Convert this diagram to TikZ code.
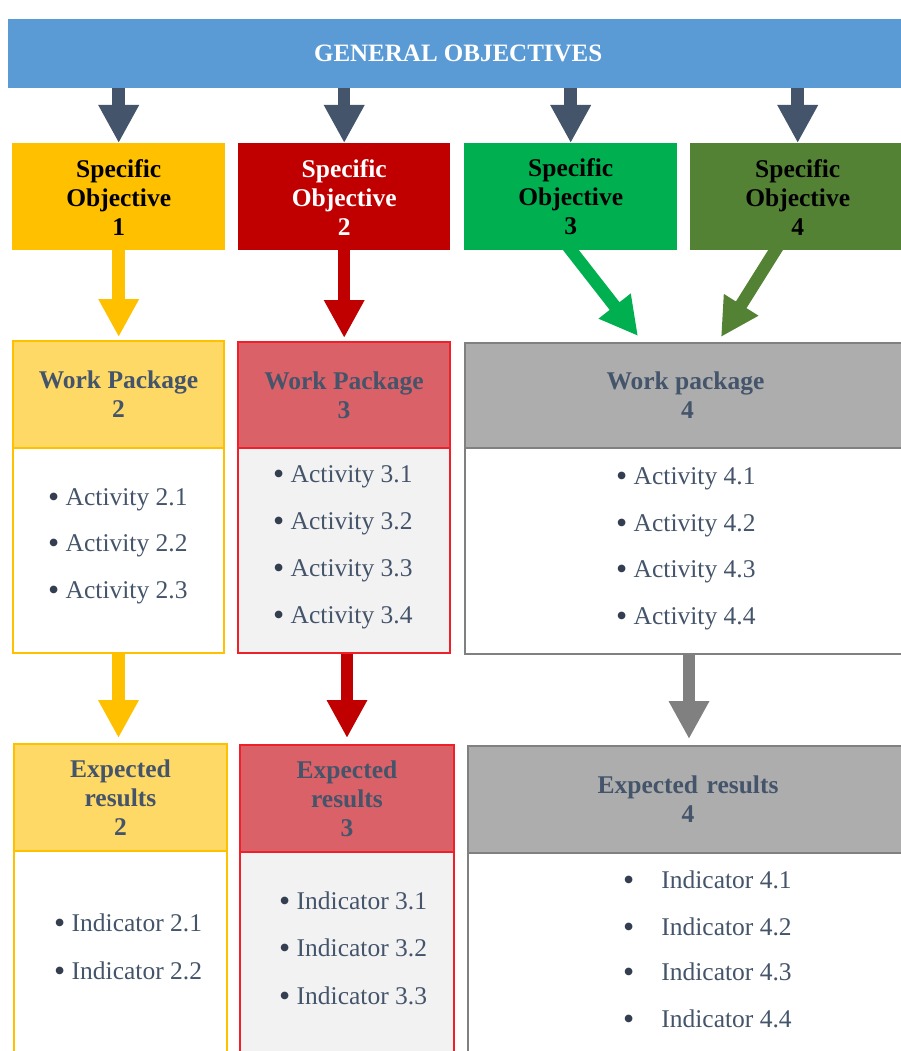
\documentclass[tikz,border=0pt]{standalone}
\usepackage{fontspec}
\setmainfont{Liberation Serif}
\usetikzlibrary{arrows.meta,calc}
\pgfdeclarelayer{back}
\pgfdeclarelayer{bg}
\pgfsetlayers{back,bg,main}
\definecolor{banner}{HTML}{5B9BD5}
\definecolor{slate}{HTML}{44546A}
\definecolor{dotc}{HTML}{333F50}
\definecolor{gold}{HTML}{FFC000}
\definecolor{lgold}{HTML}{FFD966}
\definecolor{dred}{HTML}{C00000}
\definecolor{bred}{HTML}{F0202A}
\definecolor{lred}{HTML}{DA6167}
\definecolor{lgray}{HTML}{F2F2F2}
\definecolor{greenA}{HTML}{00B050}
\definecolor{greenB}{HTML}{548235}
\definecolor{grayA}{HTML}{ADADAD}
\definecolor{grayB}{HTML}{808080}
\newcommand{\bul}{{\color{dotc}\raisebox{-1.8pt}{\scalebox{1.25}{\textbullet}}}}
\begin{document}
\begin{tikzpicture}[x=1pt,y=-1pt,
  box/.style={rectangle, anchor=north west, inner sep=0pt, align=center,
    font=\bfseries\fontsize{25.5}{29}\selectfont},
  fat/.style={line width=12.5pt, -{Triangle[length=38pt,width=38pt]}},
  item/.style={anchor=west, inner sep=0pt, text height=17pt, text depth=0pt,
    font=\fontsize{25.5}{30}\selectfont, text=slate},
  goldhead/.style={box, fill=lgold, draw=gold, line width=2pt, text=slate},
  goldbody/.style={box, fill=white, draw=gold, line width=2pt},
  redhead/.style={box, fill=lred, draw=bred, line width=2pt, text=slate},
  redbody/.style={box, fill=lgray, draw=bred, line width=2pt},
  grayhead/.style={box, fill=grayA, draw=grayB, line width=2pt, text=slate},
  graybody/.style={box, fill=white, draw=grayB, line width=2pt},
]
\useasboundingbox (0,0) rectangle (901,1051);
\clip (0,0) rectangle (901,1051);
\begin{pgfonlayer}{back}
\fill[white] (0,0) rectangle (901,1051);
\end{pgfonlayer}

% banner
\node[box, fill=banner, text=white, minimum width=900pt, minimum height=69pt,
  font=\bfseries\fontsize{25}{29}\selectfont] (go) at (8,19) {GENERAL OBJECTIVES};

% specific objectives
\node[box, fill=gold, minimum width=213pt, minimum height=107pt] (so1) at (12,143) {\rule{0pt}{19pt}Specific\\Objective\\1};
\node[box, fill=dred, text=white, minimum width=212pt, minimum height=107pt] (so2) at (238,143) {\rule{0pt}{19pt}Specific\\Objective\\2};
\node[box, fill=greenA, minimum width=213pt, minimum height=107pt] (so3) at (464,143) {\rule{0pt}{15pt}Specific\\Objective\\3};
\node[box, fill=greenB, minimum width=215pt, minimum height=107pt] (so4) at (690,143) {\rule{0pt}{19pt}Specific\\Objective\\4};

% work packages
\node[goldhead, minimum width=211pt, minimum height=107pt] (wp2h) at (12,340) {Work Package\\2};
\node[goldbody, minimum width=211pt, minimum height=205pt] (wp2b) at (12,447) {};
\node[redhead, minimum width=212pt, minimum height=106pt] (wp3h) at (237,341) {Work Package\\3};
\node[redbody, minimum width=212pt, minimum height=205pt] (wp3b) at (237,447) {};
\node[grayhead, minimum width=445pt, minimum height=105pt] (wp4h) at (464,342) {\hspace*{-4pt}Work package\\4};
\node[graybody, minimum width=445pt, minimum height=206pt] (wp4b) at (464,447) {};

% expected results
\node[goldhead, minimum width=213pt, minimum height=107pt] (er2h) at (13,743) {Expected\\results\\2};
\node[goldbody, minimum width=213pt, minimum height=230pt] (er2b) at (13,850) {};
\node[redhead, minimum width=214pt, minimum height=107pt] (er3h) at (239,744) {Expected\\results\\3};
\node[redbody, minimum width=214pt, minimum height=230pt] (er3b) at (239,851) {};
\node[grayhead, minimum width=440pt, minimum height=107pt, text width=430pt] (er4h) at (467,745) {Expected results\\4};
\node[graybody, minimum width=440pt, minimum height=230pt] (er4b) at (467,852) {};

% activities
\node[item] (a21) at (48,497) {\bul{} Activity 2.1};
\node[item] (a22) at (48,543) {\bul{} Activity 2.2};
\node[item] (a23) at (48,590) {\bul{} Activity 2.3};
\node[item] (a31) at (273,474) {\bul{} Activity 3.1};
\node[item] (a32) at (273,521) {\bul{} Activity 3.2};
\node[item] (a33) at (273,568) {\bul{} Activity 3.3};
\node[item] (a34) at (273,615) {\bul{} Activity 3.4};
\node[item] (a41) at (616,476) {\bul{} Activity 4.1};
\node[item] (a42) at (616,523) {\bul{} Activity 4.2};
\node[item] (a43) at (616,569) {\bul{} Activity 4.3};
\node[item] (a44) at (616,616) {\bul{} Activity 4.4};

% indicators
\node[item] (i21) at (54,923) {\bul{} Indicator 2.1};
\node[item] (i22) at (54,971) {\bul{} Indicator 2.2};
\node[item] (i31) at (279,901) {\bul{} Indicator 3.1};
\node[item] (i32) at (279,948) {\bul{} Indicator 3.2};
\node[item] (i33) at (279,996) {\bul{} Indicator 3.3};
\node[item] (i41) at (623,880) {\bul\hspace{27pt}Indicator 4.1};
\node[item] (i42) at (623,927) {\bul\hspace{27pt}Indicator 4.2};
\node[item] (i43) at (623,972) {\bul\hspace{27pt}Indicator 4.3};
\node[item] (i44) at (623,1019) {\bul\hspace{27pt}Indicator 4.4};

\coordinate (g3) at (638,336);
\coordinate (g4) at (721,337);

\begin{pgfonlayer}{bg}
  % general -> specific
  \draw[fat, slate] (go.south -| so1.north) -- (so1.north);
  \draw[fat, slate] (go.south -| so2.north) -- (so2.north);
  \draw[fat, slate] (go.south -| so3.north) -- (so3.north);
  \draw[fat, slate] (go.south -| so4.north) -- (so4.north);
  % specific -> work packages
  \draw[fat, gold, shorten >=3pt] (so1.south) -- (so1.south |- wp2h.north);
  \draw[fat, dred, shorten >=3pt] (so2.south) -- (so2.south |- wp3h.north);
  \draw[fat, greenA] ([shift={(-5,-7)}]so3.south) -- (g3);
  \draw[fat, greenB] ([shift={(-18,-7)}]so4.south) -- (g4);
  % work packages -> expected results
  \draw[fat, gold, shorten >=5pt] (wp2b.south) -- (wp2b.south |- er2h.north);
  \draw[fat, dred, shorten >=6pt] ([xshift=3pt]wp3b.south) -- ([xshift=3pt]wp3b.south |- er3h.north);
  \draw[fat, grayB, shorten >=6pt] ([xshift=1.5pt]wp4b.south) -- ([xshift=1.5pt]wp4b.south |- er4h.north);
\end{pgfonlayer}
\end{tikzpicture}
\end{document}
